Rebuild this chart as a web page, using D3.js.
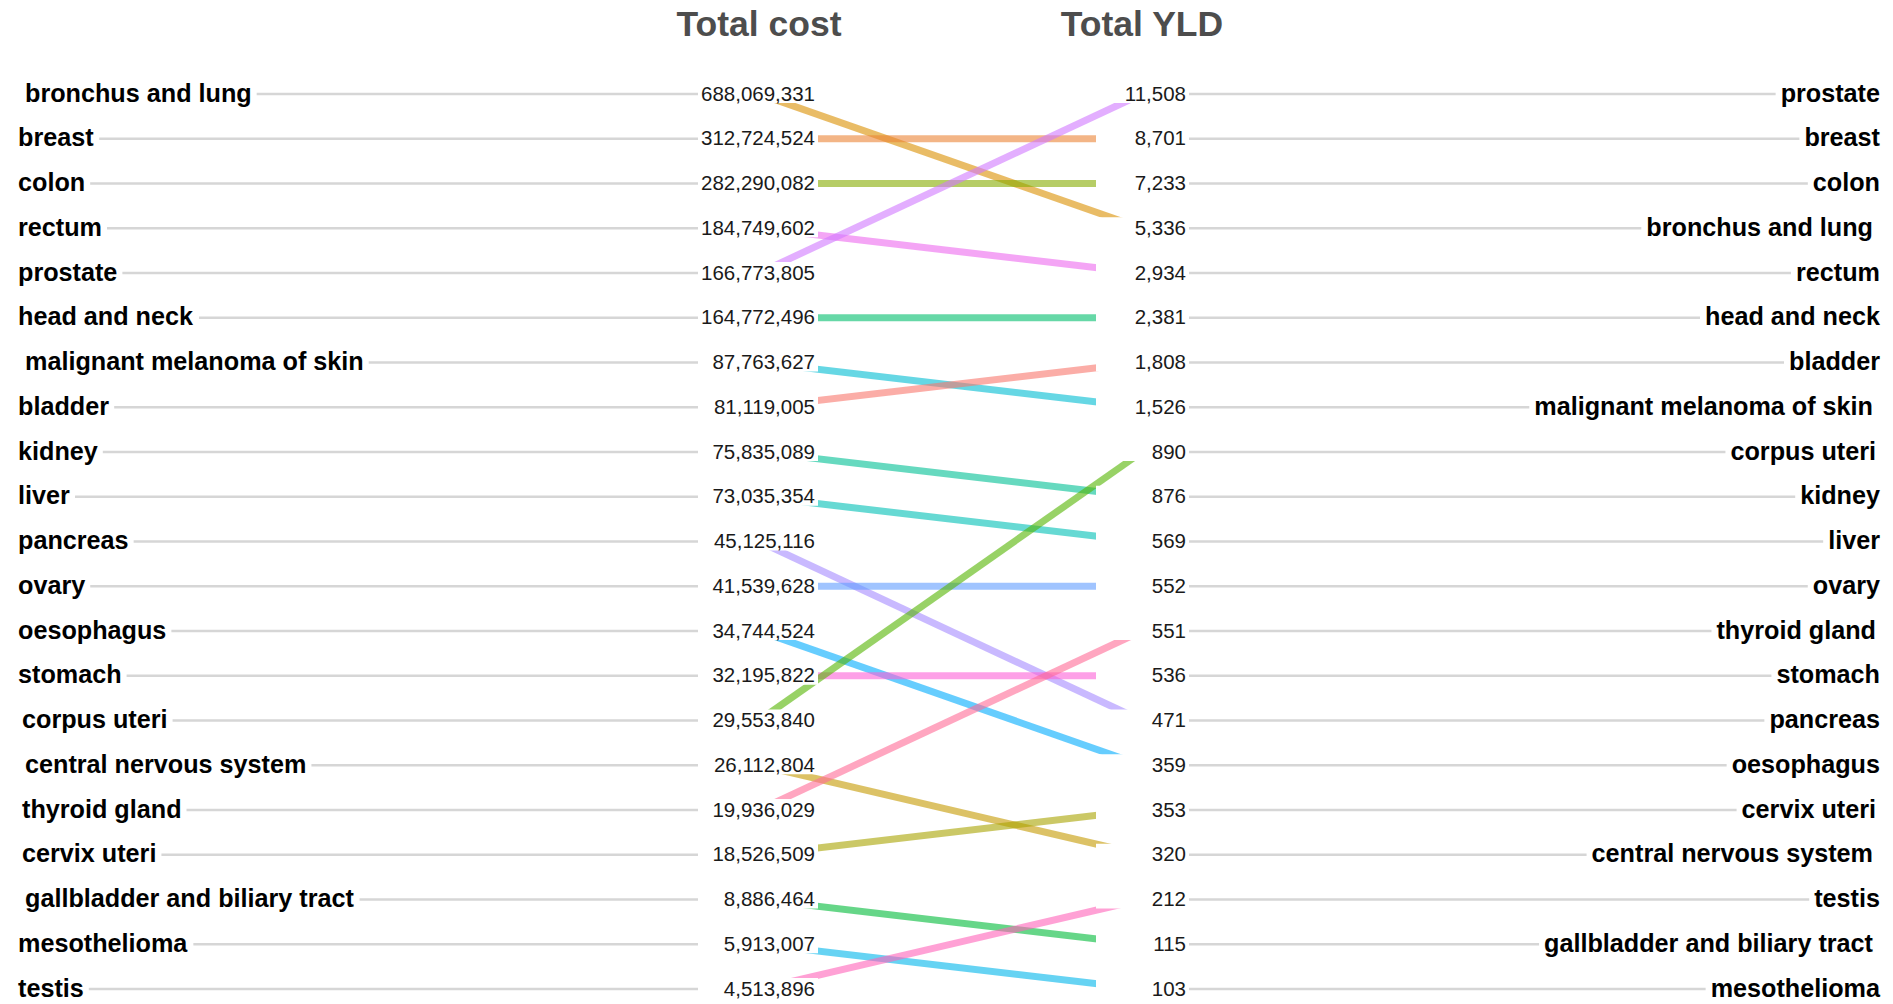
<!DOCTYPE html>
<html>
<head>
<meta charset="utf-8">
<script src="https://cdnjs.cloudflare.com/ajax/libs/d3/7.8.5/d3.min.js"></script>
<style>
  html, body { margin: 0; padding: 0; background: #ffffff; }
  svg { display: block; font-family: "Liberation Sans", Arial, sans-serif; }
</style>
</head>
<body>
<svg id="chart" width="1893" height="1004"></svg>
<script>
// ---- Data ----
const categories = [
  "bronchus and lung", "breast", "colon", "rectum", "prostate", "head and neck",
  "malignant melanoma of skin", "bladder", "kidney", "liver", "pancreas", "ovary",
  "oesophagus", "stomach", "corpus uteri", "central nervous system", "thyroid gland",
  "cervix uteri", "gallbladder and biliary tract", "mesothelioma", "testis"
];
const totalCost = [
  688069331, 312724524, 282290082, 184749602, 166773805, 164772496,
  87763627, 81119005, 75835089, 73035354, 45125116, 41539628,
  34744524, 32195822, 29553840, 26112804, 19936029,
  18526509, 8886464, 5913007, 4513896
];
const totalYLD = [
  5336, 8701, 7233, 2934, 11508, 2381,
  1526, 1808, 876, 569, 471, 552,
  359, 536, 890, 320, 551,
  353, 115, 103, 212
];
const columnTitles = ["Total cost", "Total YLD"];

// ---- Styling helpers ----
// ggplot-like hue palette (polar LUV, c=100, l=65) over alphabetical order
function hclLuv(h, c, l) {
  const hr = h * Math.PI / 180;
  const u = c * Math.cos(hr), v = c * Math.sin(hr);
  const Xn = 95.047, Yn = 100.0, Zn = 108.883;
  const un = 4 * Xn / (Xn + 15 * Yn + 3 * Zn), vn = 9 * Yn / (Xn + 15 * Yn + 3 * Zn);
  const Y = Yn * (l > 8 ? Math.pow((l + 16) / 116, 3) : l / 903.3);
  const up = u / (13 * l) + un, vp = v / (13 * l) + vn;
  const X = Y * 9 * up / (4 * vp);
  const Z = Y * (12 - 3 * up - 20 * vp) / (4 * vp);
  const x = X / 100, y = Y / 100, z = Z / 100;
  let r = 3.240479 * x - 1.537150 * y - 0.498535 * z;
  let g = -0.969256 * x + 1.875992 * y + 0.041556 * z;
  let b = 0.055648 * x - 0.204043 * y + 1.057311 * z;
  const gam = t => { t = t > 0.0031308 ? 1.055 * Math.pow(t, 1 / 2.4) - 0.055 : 12.92 * t; return Math.max(0, Math.min(1, t)); };
  return d3.rgb(gam(r) * 255, gam(g) * 255, gam(b) * 255).formatHex();
}
const alpha = categories.slice().sort();
const n = alpha.length;
const colorOf = new Map(alpha.map((c, i) => [c, hclLuv(15 + i * 360 / n, 100, 65)]));

// labels that carry a leading / trailing space in the original
const wideSpace = new Set(["bronchus and lung", "malignant melanoma of skin", "central nervous system", "gallbladder and biliary tract"]);
const thinSpace = new Set(["corpus uteri", "thyroid gland", "cervix uteri"]);
const pad = c => wideSpace.has(c) ? 7 : (thinSpace.has(c) ? 4 : 0);

// ---- Ranks ----
const rows = categories.map((c, i) => ({ name: c, cost: totalCost[i], yld: totalYLD[i] }));
const byCost = rows.slice().sort((a, b) => b.cost - a.cost);
const byYld = rows.slice().sort((a, b) => b.yld - a.yld);
byCost.forEach((d, i) => d.rCost = i);
byYld.forEach((d, i) => d.rYld = i);

// ---- Scales ----
const svg = d3.select("#chart");
const y = d3.scalePoint().domain(d3.range(n)).range([94, 989]);
const x = d3.scalePoint().domain(columnTitles).range([759, 1142]);
const leftLabelX = 18, rightLabelX = 1880;
const fmt = d3.format(",");

// Titles
svg.append("g").selectAll("text").data(columnTitles).join("text")
  .attr("x", d => x(d)).attr("y", 36)
  .attr("text-anchor", "middle")
  .attr("font-size", 35.5).attr("font-weight", "bold").attr("fill", "#4d4d4d")
  .text(d => d);

const gGray = svg.append("g");
const gLines = svg.append("g");
const gBoxes = svg.append("g");
const gText = svg.append("g");

// Category labels (left & right)
const leftCat = gText.selectAll("text.lc").data(byCost).join("text")
  .attr("class", "lc")
  .attr("x", d => leftLabelX + pad(d.name)).attr("y", d => y(d.rCost)).attr("dy", "0.3em")
  .attr("font-size", 25.2).attr("font-weight", "bold").attr("fill", "#000")
  .text(d => d.name);
const rightCat = gText.selectAll("text.rc").data(byYld).join("text")
  .attr("class", "rc")
  .attr("x", d => rightLabelX - pad(d.name)).attr("y", d => y(d.rYld)).attr("dy", "0.3em")
  .attr("text-anchor", "end")
  .attr("font-size", 25.2).attr("font-weight", "bold").attr("fill", "#000")
  .text(d => d.name);

// Gray guide lines
leftCat.each(function (d) {
  const bb = this.getBBox();
  gGray.append("line")
    .attr("x1", bb.x + bb.width + 5).attr("x2", x(columnTitles[0]))
    .attr("y1", y(d.rCost)).attr("y2", y(d.rCost))
    .attr("stroke", "#d6d6d6").attr("stroke-width", 2.6);
});
rightCat.each(function (d) {
  const bb = this.getBBox();
  gGray.append("line")
    .attr("x1", x(columnTitles[1])).attr("x2", bb.x - 5)
    .attr("y1", y(d.rYld)).attr("y2", y(d.rYld))
    .attr("stroke", "#d6d6d6").attr("stroke-width", 2.6);
});

// Slope lines
gLines.selectAll("line").data(rows).join("line")
  .attr("x1", x(columnTitles[0])).attr("y1", d => y(d.rCost))
  .attr("x2", x(columnTitles[1])).attr("y2", d => y(d.rYld))
  .attr("stroke", d => colorOf.get(d.name))
  .attr("stroke-opacity", 0.6)
  .attr("stroke-width", 7);

// White label boxes for values
gBoxes.selectAll("rect.lb").data(byCost).join("rect")
  .attr("class", "lb")
  .attr("x", x(columnTitles[0]) - 61).attr("width", 120)
  .attr("y", d => y(d.rCost) - 11).attr("height", 20)
  .attr("fill", "#fff");
gBoxes.selectAll("rect.rb").data(byYld).join("rect")
  .attr("class", "rb")
  .attr("x", x(columnTitles[1]) - 46).attr("width", 93)
  .attr("y", d => y(d.rYld) - 11).attr("height", 20)
  .attr("fill", "#fff");

// Value labels
gText.selectAll("text.lv").data(byCost).join("text")
  .attr("class", "lv")
  .attr("x", x(columnTitles[0]) + 56).attr("y", d => y(d.rCost)).attr("dy", "0.32em")
  .attr("text-anchor", "end")
  .attr("font-size", 20.5).attr("fill", "#1a1a1a")
  .text(d => fmt(d.cost));
gText.selectAll("text.rv").data(byYld).join("text")
  .attr("class", "rv")
  .attr("x", x(columnTitles[1]) + 44).attr("y", d => y(d.rYld)).attr("dy", "0.32em")
  .attr("text-anchor", "end")
  .attr("font-size", 20.5).attr("fill", "#1a1a1a")
  .text(d => fmt(d.yld));
</script>
</body>
</html>
